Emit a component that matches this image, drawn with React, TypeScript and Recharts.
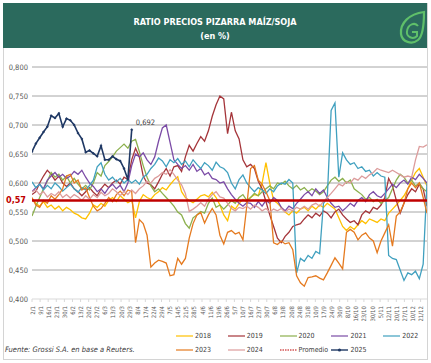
import React from 'react';
import { LineChart, Line, XAxis, YAxis, ReferenceLine, LabelList } from 'recharts';

const Y2018 = [
  0.572, 0.565, 0.560, 0.568, 0.558, 0.562, 0.555, 0.560, 0.552, 0.558,
  0.554, 0.548, 0.545, 0.540, 0.538, 0.548, 0.562, 0.558, 0.565, 0.560,
  0.570, 0.575, 0.568, 0.578, 0.572, 0.566, 0.570, 0.540, 0.568, 0.580,
  0.575, 0.572, 0.580, 0.585, 0.592, 0.588, 0.597, 0.605, 0.611, 0.585,
  0.575, 0.570, 0.566, 0.572, 0.578, 0.580, 0.576, 0.584, 0.575, 0.562,
  0.545, 0.535, 0.560, 0.555, 0.565, 0.572, 0.568, 0.575, 0.580, 0.578,
  0.600, 0.635, 0.600, 0.570, 0.565, 0.558, 0.550, 0.545, 0.552, 0.548,
  0.555, 0.558, 0.552, 0.560, 0.555, 0.562, 0.558, 0.565, 0.560, 0.555,
  0.540, 0.525, 0.518, 0.525, 0.520, 0.528, 0.535, 0.530, 0.538, 0.535,
  0.532, 0.538, 0.535, 0.548, 0.555, 0.562, 0.570, 0.578, 0.590, 0.605,
  0.618, 0.625, 0.610, 0.595,
];

const Y2019 = [
  0.580, 0.585, 0.600, 0.612, 0.622, 0.615, 0.605, 0.612, 0.600, 0.594,
  0.600, 0.590, 0.585, 0.578, 0.585, 0.592, 0.584, 0.578, 0.590, 0.598,
  0.592, 0.600, 0.605, 0.598, 0.610, 0.606, 0.640, 0.660, 0.645, 0.612,
  0.600, 0.597, 0.590, 0.602, 0.615, 0.625, 0.612, 0.628, 0.630, 0.620,
  0.645, 0.665, 0.655, 0.668, 0.680, 0.672, 0.690, 0.715, 0.735, 0.750,
  0.745, 0.685, 0.722, 0.690, 0.676, 0.640, 0.628, 0.632, 0.625, 0.603,
  0.590, 0.568, 0.545, 0.525, 0.505, 0.497, 0.508, 0.515, 0.525, 0.528,
  0.530, 0.538, 0.545, 0.540, 0.548, 0.543, 0.552, 0.548, 0.540, 0.550,
  0.555, 0.545, 0.538, 0.532, 0.535, 0.528, 0.545, 0.552, 0.548, 0.558,
  0.555, 0.562, 0.575, 0.608, 0.595, 0.570, 0.548, 0.565, 0.580, 0.590,
  0.585, 0.598, 0.590, 0.560,
];

const Y2020 = [
  0.543, 0.560, 0.575, 0.590, 0.603, 0.618, 0.610, 0.615, 0.605, 0.612,
  0.600, 0.608, 0.598, 0.590, 0.596, 0.588, 0.600, 0.618, 0.612, 0.630,
  0.637, 0.645, 0.655, 0.661, 0.667, 0.660, 0.672, 0.675, 0.654, 0.630,
  0.610, 0.595, 0.585, 0.590, 0.582, 0.575, 0.568, 0.560, 0.550, 0.545,
  0.530, 0.522, 0.540, 0.545, 0.551, 0.548, 0.565, 0.574, 0.558, 0.562,
  0.555, 0.562, 0.570, 0.565, 0.575, 0.580, 0.570, 0.575, 0.582, 0.578,
  0.585, 0.590, 0.595, 0.590, 0.600, 0.598, 0.603, 0.595, 0.590, 0.596,
  0.588, 0.592, 0.585, 0.590, 0.586, 0.580, 0.585, 0.595, 0.605, 0.610,
  0.603, 0.608, 0.600, 0.605, 0.590, 0.585, 0.580, 0.572, 0.575, 0.568,
  0.572, 0.565, 0.570, 0.575, 0.590, 0.605, 0.615, 0.610, 0.600, 0.605,
  0.595, 0.600, 0.590, 0.585,
];

const Y2021 = [
  0.585, 0.592, 0.598, 0.590, 0.605, 0.612, 0.618, 0.610, 0.615, 0.608,
  0.612, 0.620, 0.615, 0.622, 0.610, 0.600, 0.594, 0.585, 0.590, 0.582,
  0.592, 0.598, 0.590, 0.596, 0.585, 0.600, 0.630, 0.650, 0.645, 0.652,
  0.640, 0.632, 0.645, 0.672, 0.695, 0.700, 0.670, 0.640, 0.632, 0.625,
  0.630, 0.622, 0.632, 0.620, 0.625, 0.614, 0.618, 0.608, 0.606, 0.600,
  0.602, 0.590, 0.580, 0.572, 0.565, 0.560, 0.566, 0.565, 0.558, 0.568,
  0.560, 0.570, 0.565, 0.575, 0.570, 0.558, 0.552, 0.560, 0.556, 0.565,
  0.572, 0.580, 0.585, 0.578, 0.590, 0.582, 0.588, 0.575, 0.565, 0.558,
  0.560, 0.552, 0.558, 0.565, 0.560, 0.570, 0.575, 0.568, 0.580, 0.585,
  0.578, 0.575, 0.582, 0.590, 0.598, 0.592, 0.600, 0.605, 0.598, 0.610,
  0.606, 0.615, 0.608, 0.600,
];

const Y2022 = [
  0.602, 0.592, 0.598, 0.588, 0.596, 0.590, 0.600, 0.594, 0.586, 0.592,
  0.598, 0.590, 0.584, 0.592, 0.588, 0.596, 0.605, 0.628, 0.635, 0.615,
  0.605, 0.610, 0.602, 0.608, 0.600, 0.606, 0.600, 0.605, 0.598, 0.610,
  0.615, 0.625, 0.632, 0.643, 0.638, 0.628, 0.640, 0.635, 0.642, 0.632,
  0.638, 0.628, 0.640, 0.632, 0.625, 0.635, 0.630, 0.622, 0.636, 0.628,
  0.625, 0.618, 0.600, 0.590, 0.606, 0.614, 0.600, 0.592, 0.585, 0.592,
  0.588, 0.582, 0.590, 0.585, 0.595, 0.600, 0.598, 0.606, 0.600, 0.445,
  0.470, 0.465, 0.475, 0.470, 0.482, 0.478, 0.565, 0.575, 0.725, 0.738,
  0.610, 0.652, 0.640, 0.632, 0.635, 0.625, 0.628, 0.620, 0.622, 0.612,
  0.618, 0.612, 0.610, 0.475, 0.470, 0.468, 0.450, 0.432, 0.445, 0.442,
  0.448, 0.435, 0.460, 0.600,
];

const Y2023 = [
  0.575, 0.562, 0.558, 0.570, 0.565, 0.578, 0.572, 0.580, 0.590, 0.612,
  0.615, 0.600, 0.605, 0.588, 0.592, 0.575, 0.560, 0.552, 0.556, 0.565,
  0.575, 0.568, 0.580, 0.586, 0.578, 0.588, 0.585, 0.497, 0.537, 0.530,
  0.510, 0.455, 0.462, 0.467, 0.465, 0.462, 0.440, 0.442, 0.470, 0.460,
  0.470, 0.505, 0.530, 0.545, 0.549, 0.531, 0.545, 0.556, 0.545, 0.510,
  0.495, 0.515, 0.518, 0.512, 0.515, 0.502, 0.560, 0.625, 0.630, 0.605,
  0.598, 0.585, 0.570, 0.497, 0.494, 0.500, 0.495, 0.497, 0.485, 0.440,
  0.428, 0.422, 0.437, 0.438, 0.440, 0.436, 0.433, 0.445, 0.458, 0.471,
  0.462, 0.452, 0.515, 0.520, 0.515, 0.502, 0.510, 0.514, 0.505, 0.500,
  0.480, 0.500, 0.514, 0.528, 0.491, 0.543, 0.550, 0.565, 0.590, 0.600,
  0.592, 0.600, 0.575, 0.548,
];

const Y2024 = [
  0.585, 0.588, 0.580, 0.585, 0.576, 0.582, 0.578, 0.585, 0.575, 0.580,
  0.574, 0.580, 0.576, 0.570, 0.578, 0.572, 0.580, 0.575, 0.584, 0.578,
  0.582, 0.590, 0.585, 0.578, 0.586, 0.580, 0.588, 0.582, 0.590, 0.595,
  0.603, 0.600, 0.608, 0.612, 0.618, 0.615, 0.623, 0.615, 0.605, 0.597,
  0.582, 0.551, 0.555, 0.560, 0.566, 0.560, 0.572, 0.580, 0.585, 0.576,
  0.574, 0.565, 0.556, 0.552, 0.558, 0.556, 0.560, 0.555, 0.562, 0.558,
  0.552, 0.556, 0.550, 0.555, 0.552, 0.556, 0.550, 0.555, 0.552, 0.558,
  0.555, 0.560, 0.555, 0.562, 0.565, 0.560, 0.568, 0.575, 0.582, 0.590,
  0.598, 0.595, 0.602, 0.600, 0.608, 0.605, 0.612, 0.608, 0.614, 0.618,
  0.625, 0.622, 0.620, 0.618, 0.622, 0.618, 0.614, 0.610, 0.612, 0.610,
  0.640, 0.663, 0.662, 0.666,
];

const Y2025 = [
  0.654, 0.668, 0.678, 0.688, 0.697, 0.716, 0.712, 0.720, 0.697, 0.711,
  0.708, 0.700, 0.686, 0.676, 0.653, 0.656, 0.651, 0.646, 0.664, 0.640,
  0.640, 0.646, 0.641, 0.638, 0.625, 0.606, 0.692,
];

const PROMEDIO = 0.57;

const TICK_LABELS = [
  '2/1', '9/1', '16/1', '23/1', '30/1', '6/2', '13/2', '20/2', '27/2', '6/3',
  '13/3', '20/3', '29/3', '8/4', '17/4', '22/4', '29/4', '7/5', '14/5', '21/5',
  '28/5', '4/6', '11/6', '19/6', '26/6', '5/7', '10/7', '16/7', '23/7', '30/7',
  '6/8', '13/8', '20/8', '24/8', '31/8', '10/9', '17/9', '24/9', '30/9', '8/10',
  '16/10', '23/10', '30/10', '5/11', '12/11', '20/11', '27/11', '10/12', '21/12',
];

const Y_TICKS = [0.4, 0.45, 0.5, 0.55, 0.6, 0.65, 0.7, 0.75, 0.8];
const GRID_VALUES = [0.45, 0.5, 0.55, 0.6, 0.65, 0.7, 0.75, 0.8];

const SERIES = [
  { key: 'y2018', name: '2018', values: Y2018, color: '#ffc000' },
  { key: 'y2019', name: '2019', values: Y2019, color: '#a5353a' },
  { key: 'y2020', name: '2020', values: Y2020, color: '#8cb04d' },
  { key: 'y2021', name: '2021', values: Y2021, color: '#7b4ba6' },
  { key: 'y2022', name: '2022', values: Y2022, color: '#40a0bf' },
  { key: 'y2023', name: '2023', values: Y2023, color: '#e57a1f' },
  { key: 'y2024', name: '2024', values: Y2024, color: '#dc9c9c' },
];
const COLOR_2025 = '#1f3864';
const COLOR_PROM = '#c00000';

const N = Y2018.length;
const TICK_STEP = 2.111;

const rows = Array.from({ length: N }, (_, i) => {
  const r: any = { i };
  SERIES.forEach((s) => {
    r[s.key] = s.values[i] ?? null;
  });
  r.y2025 = i < Y2025.length ? Y2025[i] : null;
  return r;
});

const xTicks = TICK_LABELS.map((_, k) => k * TICK_STEP);

const fmt = (v: number, d = 3) => v.toFixed(d).replace('.', ',');

const FONT = "'Liberation Sans Narrow', 'DejaVu Sans Condensed', 'Liberation Sans', sans-serif";

const XTick = (props: any) => {
  const { x, y, payload } = props;
  const k = Math.round(payload.value / TICK_STEP);
  const label = TICK_LABELS[k] ?? '';
  return (
    <text
      x={x}
      y={y}
      transform={`rotate(-90 ${x} ${y})`}
      textAnchor="end"
      dominantBaseline="central"
      fontSize={6}
      fill="#595959"
      fontFamily={FONT}
    >
      {label}
    </text>
  );
};

const YTick = (props: any) => {
  const { x, y, payload } = props;
  return (
    <text x={x} y={y} textAnchor="end" dominantBaseline="central" fontSize={7.5} fill="#595959" fontFamily={FONT}>
      {fmt(payload.value)}
    </text>
  );
};

const PromLabel = (props: any) => {
  const vb = props.viewBox || {};
  return (
    <text
      x={(vb.x ?? 32) - 6}
      y={vb.y ?? 0}
      textAnchor="end"
      dominantBaseline="central"
      fontSize={9}
      fontWeight="bold"
      fill={COLOR_PROM}
      fontFamily={FONT}
    >
      {fmt(PROMEDIO, 2)}
    </text>
  );
};

const LastLabel = (props: any) => {
  const { x, y, index, value } = props;
  if (index !== Y2025.length - 1 || value == null) return null;
  return (
    <text x={x + 4} y={y - 5} fontSize={7.5} fill="#404040" fontFamily={FONT}>
      {fmt(value)}
    </text>
  );
};

const LEGEND_ROWS = [
  ['2018', '2019', '2020', '2021', '2022'],
  ['2023', '2024', 'Promedio', '2025'],
];

const legendColor = (name: string) => {
  if (name === 'Promedio') return COLOR_PROM;
  if (name === '2025') return COLOR_2025;
  const s = SERIES.find((q) => q.name === name);
  return s ? s.color : '#000';
};

const Logo = () => (
  <svg width={30} height={36} style={{ position: 'absolute', left: 397, top: 10 }} viewBox="0 0 30 36">
    <path
      d="M27 2 C 12 4, 3 13, 4 24 C 5 32, 15 35, 21 30 C 26 26, 27 15, 27 2 Z"
      fill="none"
      stroke="#5fbf6a"
      strokeWidth={2.2}
    />
    <path
      d="M21 16 C 18 12, 11 14, 10 21 C 9 27, 16 30, 20 26 L 20 22 L 15 22"
      fill="none"
      stroke="#5fbf6a"
      strokeWidth={2}
    />
  </svg>
);

export default function App() {
  return (
    <div
      style={{
        position: 'absolute',
        left: 0,
        top: 0,
        width: 431,
        height: 363,
        background: '#ffffff',
        fontFamily: FONT,
        overflow: 'hidden',
      }}
    >
      <div
        style={{
          position: 'absolute',
          left: 3,
          top: 3,
          width: 423,
          height: 355,
          border: '1px solid #d4d4d4',
        }}
      />
      <div
        style={{
          position: 'absolute',
          left: 3,
          top: 3,
          width: 424,
          height: 45,
          background: '#2b6a5d',
          color: '#ffffff',
          textAlign: 'center',
          fontWeight: 'bold',
        }}
      >
        <div style={{ position: 'absolute', left: 0, width: 424, top: 13, fontSize: 9, lineHeight: '12px' }}>
          RATIO PRECIOS PIZARRA MAÍZ/SOJA
        </div>
        <div style={{ position: 'absolute', left: 0, width: 424, top: 27, fontSize: 9, lineHeight: '12px' }}>
          (en %)
        </div>
      </div>
      <Logo />
      <div style={{ position: 'absolute', left: 0, top: 0 }}>
        <LineChart width={431} height={363} data={rows} margin={{ top: 67, right: 4, bottom: 36, left: 0 }}>
          {GRID_VALUES.map((v) => (
            <ReferenceLine key={v} y={v} stroke="#a6a6a6" strokeWidth={1} />
          ))}
          <XAxis
            type="number"
            dataKey="i"
            domain={[0, N - 1]}
            ticks={xTicks}
            interval={0}
            tick={<XTick />}
            tickSize={3}
            tickMargin={4}
            height={28}
            tickLine={{ stroke: '#d9d9d9' }}
            axisLine={{ stroke: '#d9d9d9' }}
            allowDataOverflow
          />
          <YAxis
            type="number"
            domain={[0.4, 0.8]}
            ticks={Y_TICKS}
            interval={0}
            width={32}
            tick={<YTick />}
            tickLine={false}
            tickSize={0}
            tickMargin={4}
            axisLine={false}
            allowDataOverflow
          />
          {SERIES.map((s) => (
            <Line
              key={s.key}
              type="linear"
              dataKey={s.key}
              name={s.name}
              stroke={s.color}
              strokeWidth={1.3}
              dot={false}
              isAnimationActive={false}
            />
          ))}
          <ReferenceLine y={PROMEDIO} stroke={COLOR_PROM} strokeWidth={2.5} label={<PromLabel />} />
          <Line
            type="linear"
            dataKey="y2025"
            name="2025"
            stroke={COLOR_2025}
            strokeWidth={1.6}
            dot={{ r: 0.9, fill: COLOR_2025, stroke: COLOR_2025, strokeWidth: 0.6 }}
            isAnimationActive={false}
            connectNulls={false}
          >
            <LabelList dataKey="y2025" content={<LastLabel />} />
          </Line>
        </LineChart>
      </div>
      {LEGEND_ROWS.map((row, ri) =>
        row.map((name, ci) => {
          const left = 176 + ci * 51.8;
          const top = 330 + ri * 13.5;
          const color = legendColor(name);
          return (
            <div key={name} style={{ position: 'absolute', left, top, height: 12, display: 'flex', alignItems: 'center' }}>
              <svg width={19} height={12}>
                <line
                  x1={0}
                  y1={6}
                  x2={17}
                  y2={6}
                  stroke={color}
                  strokeWidth={name === '2025' ? 1.4 : 1.2}
                  strokeDasharray={name === 'Promedio' ? '1.5 1' : undefined}
                />
                {name === '2025' && <circle cx={8.5} cy={6} r={1.6} fill={color} />}
              </svg>
              <span style={{ fontSize: 7, color: '#404040', lineHeight: '12px' }}>{name}</span>
            </div>
          );
        })
      )}
      <div
        style={{
          position: 'absolute',
          left: 5,
          top: 344,
          fontSize: 7.5,
          fontStyle: 'italic',
          color: '#404040',
          lineHeight: '12px',
        }}
      >
        Fuente: Grossi S.A. en base a Reuters.
      </div>
    </div>
  );
}
